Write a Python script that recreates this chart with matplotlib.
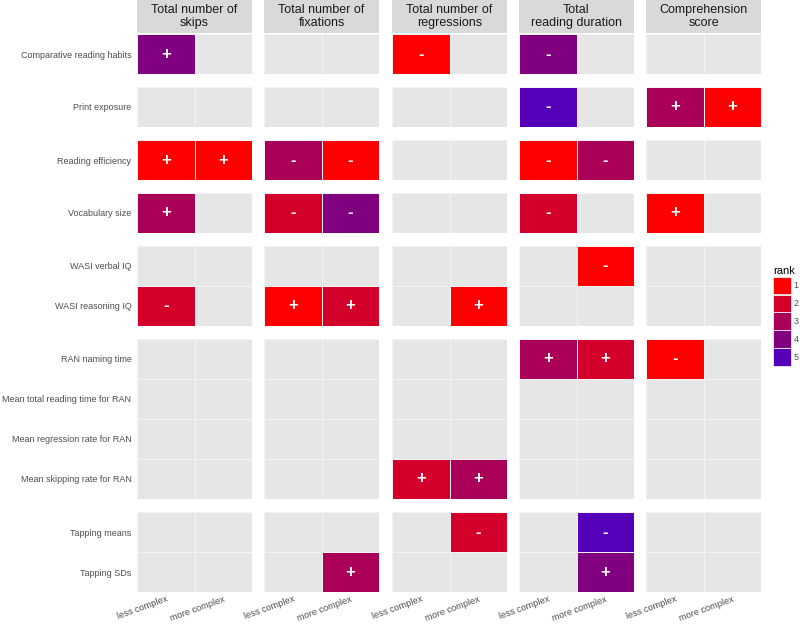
import numpy as np
import matplotlib.pyplot as plt
from matplotlib.colors import ListedColormap
from matplotlib.patches import Patch

plt.rcParams["font.family"] = ["Liberation Sans", "DejaVu Sans"]

measures = ["Total number of\nskips", "Total number of\nfixations",
            "Total number of\nregressions", "Total\nreading duration",
            "Comprehension\nscore"]
predictors = ["Comparative reading habits", "Print exposure", "Reading efficiency",
              "Vocabulary size", "WASI verbal IQ", "WASI reasoning IQ",
              "RAN naming time", "Mean total reading time for RAN",
              "Mean regression rate for RAN", "Mean skipping rate for RAN",
              "Tapping means", "Tapping SDs"]
group_sizes = [1, 1, 1, 1, 2, 4, 2]
complexity = ["less complex", "more complex"]

# significant effects: predictor index, measure index, complexity index, sign, rank
eff_pred = [0, 0, 0, 1, 1, 1, 2, 2, 2, 2, 2, 2, 3, 3, 3, 3, 3, 4, 5, 5, 5, 5,
            6, 6, 6, 9, 9, 10, 10, 11, 11]
eff_meas = [0, 2, 3, 3, 4, 4, 0, 0, 1, 1, 3, 3, 0, 1, 1, 3, 4, 3, 0, 1, 1, 2,
            3, 3, 4, 2, 2, 2, 3, 1, 3]
eff_cond = [0, 0, 0, 0, 0, 1, 0, 1, 0, 1, 0, 1, 0, 0, 1, 0, 0, 1, 0, 0, 1, 1,
            0, 1, 0, 0, 1, 1, 1, 1, 1]
eff_sign = ["+", "-", "-", "-", "+", "+", "+", "+", "-", "-", "-", "-", "+", "-", "-", "-", "+", "-",
            "-", "+", "+", "+", "+", "+", "-", "+", "+", "-", "-", "+", "+"]
eff_rank = [4, 1, 4, 5, 3, 1, 1, 1, 3, 1, 1, 3, 3, 2, 4, 2, 1, 1, 2, 1, 2, 1,
            3, 2, 1, 2, 3, 2, 5, 3, 4]

ranks = [1, 2, 3, 4, 5]
rank_colors = ["#FF0000", "#D4002C", "#AA0058", "#800080", "#5500B8"]
cmap = ListedColormap(rank_colors)
cmap.set_bad("#E6E6E6")

# grid of ranks and signs
rank_grid = np.full((len(predictors), len(measures), 2), np.nan)
sign_grid = np.full((len(predictors), len(measures), 2), "", dtype=object)
for p, m, c, s, r in zip(eff_pred, eff_meas, eff_cond, eff_sign, eff_rank):
    rank_grid[p, m, c] = r
    sign_grid[p, m, c] = s

W, H = 800, 625
fig = plt.figure(figsize=(W / 100, H / 100), dpi=100)

col_left = [137, 264, 392, 519, 646]
col_w = 115
row_h = 40
gap = 13
top = 34

y0 = top
start = 0
for gi, n in enumerate(group_sizes):
    h = n * row_h
    for mi in range(len(measures)):
        ax = fig.add_axes([col_left[mi] / W, 1 - (y0 + h) / H, col_w / W, h / H])
        data = np.ma.masked_invalid(rank_grid[start:start + n, mi, :])
        ax.pcolormesh(np.arange(3) - 0.5, np.arange(n + 1) - 0.5, data, cmap=cmap,
                      vmin=0.5, vmax=5.5, edgecolors="#F3F3F3", linewidth=0.4)
        for r in range(n):
            for c in range(2):
                s = sign_grid[start + r, mi, c]
                if s:
                    ax.text(c, r, s, color="white", ha="center", va="center",
                            fontsize=12, fontweight="bold")
        ax.set_xlim(-0.5, 1.5)
        ax.set_ylim(n - 0.5, -0.5)
        for sp in ax.spines.values():
            sp.set_visible(False)
        ax.tick_params(length=0, colors="#4D4D4D")
        ax.set_yticks(range(n))
        if mi == 0:
            ax.set_yticklabels(predictors[start:start + n], fontsize=6.5, color="#4D4D4D")
            ax.tick_params(axis="y", pad=4)
        else:
            ax.set_yticklabels([])
        ax.set_xticks([0, 1])
        if gi == len(group_sizes) - 1:
            ax.set_xticklabels(complexity, fontsize=6.6, color="#4D4D4D", rotation=20,
                               ha="right", rotation_mode="anchor")
            ax.tick_params(axis="x", pad=2)
        else:
            ax.set_xticklabels([])
    y0 += h + gap
    start += n

# facet strips
for mi, name in enumerate(measures):
    sax = fig.add_axes([col_left[mi] / W, 1 - 33 / H, col_w / W, 33 / H])
    sax.set_facecolor("#D9D9D9")
    sax.set_xticks([])
    sax.set_yticks([])
    for sp in sax.spines.values():
        sp.set_visible(False)
    sax.text(0.5, 0.5, name, ha="center", va="center", fontsize=9,
             color="#1A1A1A", linespacing=1.05, transform=sax.transAxes)

handles = [Patch(facecolor=col, edgecolor="white", linewidth=0.5) for col in rank_colors]
leg = fig.legend(handles, [str(r) for r in ranks], title="rank", loc="center left",
                 bbox_to_anchor=(773 / W, 1 - 316 / H), frameon=False, fontsize=6.5,
                 title_fontsize=8, handlelength=2.0, handleheight=2.6,
                 labelspacing=0.05, handletextpad=0.3, borderaxespad=0,
                 borderpad=0, alignment="left")
for t in leg.get_texts():
    t.set_color("#4D4D4D")

fig.savefig("out.png", dpi=100)
